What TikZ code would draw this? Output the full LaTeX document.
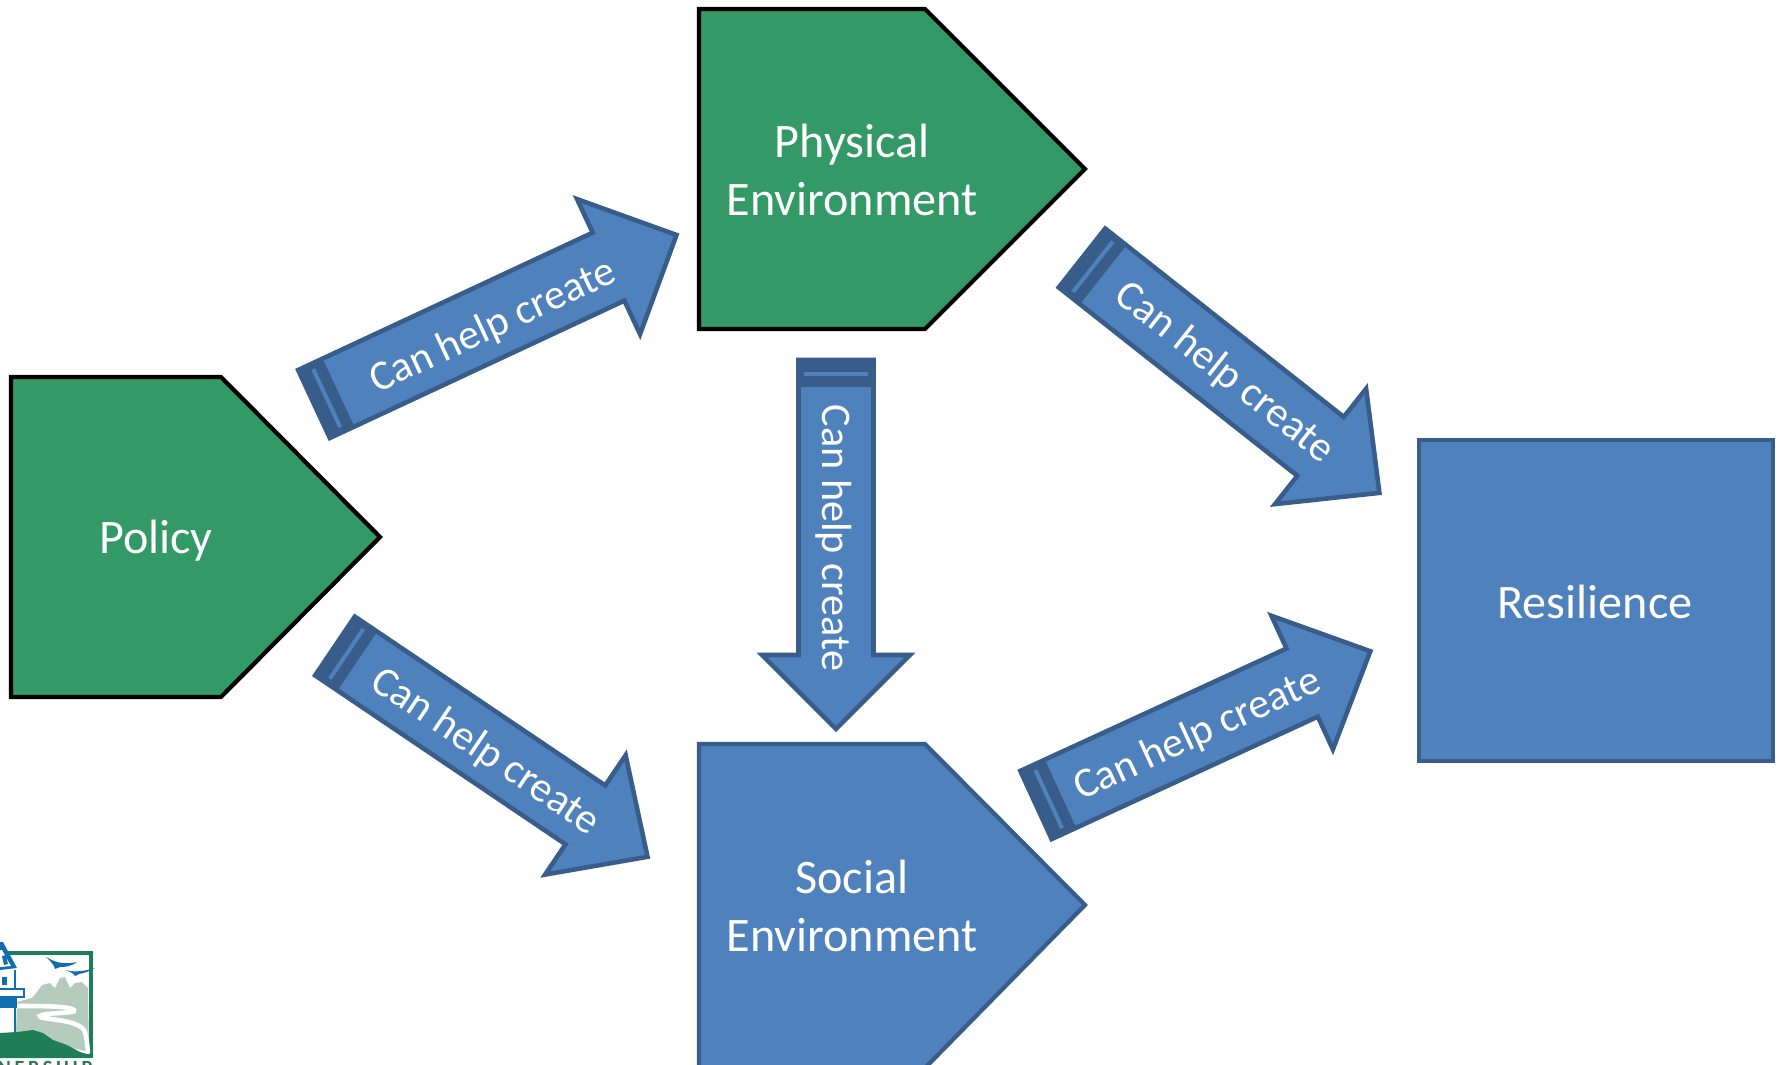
\documentclass[tikz,border=0pt]{standalone}
\usepackage{fontspec}
\setmainfont{Carlito}
\definecolor{shapegreen}{HTML}{339966}
\definecolor{shapeblue}{HTML}{4F81BD}
\definecolor{edgeblue}{HTML}{385D8A}
\definecolor{logoblue}{HTML}{0F6DB0}
\definecolor{logogreen}{HTML}{1F7D57}
\definecolor{logosage}{HTML}{B5CBBE}
\tikzset{
  greenbox/.style={draw=black,line width=2.4pt,fill=shapegreen,line join=miter},
  bluebox/.style={draw=edgeblue,line width=2.4pt,fill=shapeblue,line join=miter},
  bigtext/.style={text=white,font=\fontsize{27.4}{33.5}\selectfont,inner sep=0pt,align=center},
  arrowtext/.style={text=white,font=\fontsize{24}{24}\selectfont,inner sep=0pt}
}
% #1 name, #2 tail x, #3 tail y, #4 angle (image, clockwise positive), #5 length, #6 shaft half, #7 head half, #8 head length, #9 label position (along,across)
\newcommand{\blockarrow}[9]{%
  \begin{scope}[shift={(#2,#3)},rotate=#4]
    \draw[bluebox,line width=2.6pt] (0,-#6) -- ({#5-#8},-#6) -- ({#5-#8},-#7) -- (#5,0) -- ({#5-#8},#7) -- ({#5-#8},#6) -- (0,#6) -- cycle;
    \fill[edgeblue] (-1,{-#6-1}) rectangle (27,{#6+1});
    \fill[shapeblue] (12,{-#6+5.5}) rectangle (16,{#6-5.5});
    \node[arrowtext,rotate=-#4] (#1) at (#9) {Can help create};
  \end{scope}}
\begin{document}
\begin{tikzpicture}[x=0.02cm,y=0.02cm,yscale=-1]
\useasboundingbox (0,0) rectangle (1779,1065);
\clip (0,0) rectangle (1779,1065);
\fill[white] (0,0) rectangle (1779,1065);
% logo
\begin{scope}
  \draw[logogreen,line width=2.3pt,fill=white] (-5,953) rectangle (91,1056);
  \fill[logosage] (17,1002) -- (32,998) -- (37,992) -- (42,985) -- (50,983) -- (55,988) -- (60,978) -- (65,977) -- (70,988) -- (75,983) -- (82,982) -- (88,988) -- (89,1052) -- (16,1034) -- cycle;
  \draw[white,line width=2.6pt,line cap=round] (17,1006) .. controls (40,1006) and (70,1006) .. (74,1010) .. controls (78,1014) and (45,1012) .. (40,1016) .. controls (38,1020) and (75,1018) .. (84,1030) .. controls (87,1036) and (87,1045) .. (88,1052);
  \fill[logogreen] (0,1033) -- (17,1032) -- (33,1030) -- (43,1033) -- (53,1040) -- (67,1045) -- (80,1052) -- (90,1055) -- (90,1058) -- (0,1058) -- cycle;
  \fill[logoblue] (46,957) .. controls (55,962) and (62,965) .. (77,962) .. controls (70,967) and (64,967) .. (60,967) -- (55,969) .. controls (54,964) and (50,961) .. (46,957) -- cycle;
  \fill[logoblue] (65,970) .. controls (72,972) and (82,972) .. (95,968) .. controls (88,972) and (84,973) .. (79,974) -- (75,976) .. controls (74,973) and (70,972) .. (65,970) -- cycle;
  \fill[logoblue] (0,942) -- (3,942) -- (17,968) -- (0,970) -- cycle;
  \fill[white] (0,950) -- (2,950) -- (11,966) -- (0,967) -- cycle;
  \fill[logoblue] (2,956) -- (6,955) -- (8,964) -- (4,965) -- cycle;
  \fill[white] (0,970) rectangle (14,988);
  \draw[logoblue,line width=1.1pt] (15,970) -- (15,988);
  \fill[logoblue] (2,977) rectangle (7,985);
  \draw[logoblue,line width=1.2pt,fill=white] (-3,989) rectangle (24,997);
  \fill[logoblue] (0,997) rectangle (17,1008);
  \draw[logoblue,line width=1.1pt] (15,1008) -- (15,1032);
  \node[font=\bfseries\fontsize{11.5}{11.5}\selectfont\addfontfeatures{LetterSpace=18},text=logogreen,inner sep=0pt,anchor=north] (logotext) at (45,1061) {NERSHIP};
\end{scope}
% main shapes
\draw[greenbox] (11,377) -- (221,377) -- (380,537) -- (221,697) -- (11,697) -- cycle;
\draw[greenbox] (699,9) -- (925,9) -- (1085,169) -- (925,329) -- (699,329) -- cycle;
\draw[bluebox] (699,744) -- (925,744) -- (1085,905) -- (925,1068) -- (699,1068) -- cycle;
\draw[bluebox] (1419,440) rectangle (1773,761);
\node[bigtext] (policy) at (156,541) {Policy};
\node[bigtext] (physical) at (852,170) {Physical\\Environment};
\node[bigtext] (social) at (852,906) {Social\\Environment};
\node[bigtext] (resilience) at (1595,602) {Resilience};
% arrows
\blockarrow{helpa}{314}{404}{-25}{400}{37.5}{74.5}{75}{195,6}
\blockarrow{helpb}{335}{646}{34}{377}{35.5}{72}{75}{184,4}
\blockarrow{helpc}{836}{360}{90}{369}{37.5}{74}{74}{178,2}
\blockarrow{helpd}{1082}{258}{38.3}{379}{37.5}{73.5}{75}{183,2}
\blockarrow{helpe}{1036}{805}{-24.7}{368}{37.5}{73.5}{75}{176,4}
\end{tikzpicture}
\end{document}
